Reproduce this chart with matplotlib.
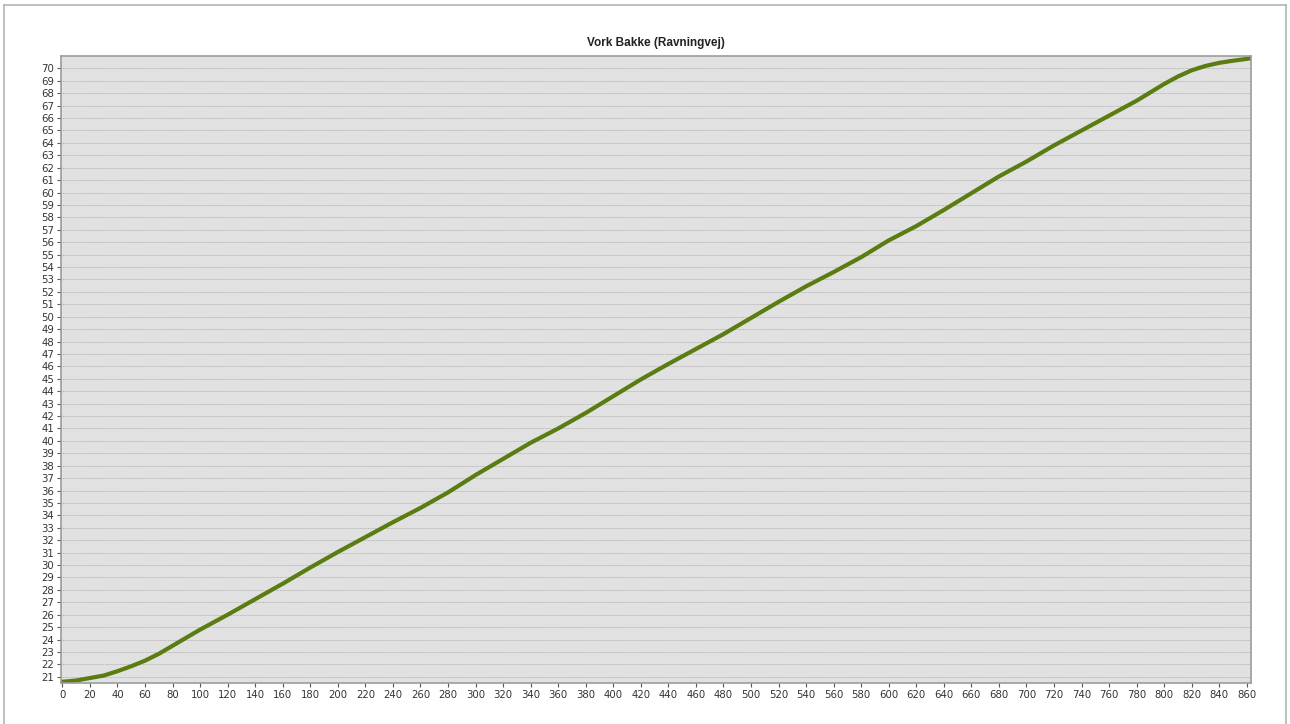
import matplotlib.pyplot as plt
from matplotlib.lines import Line2D

TITLE = "Vork Bakke (Ravningvej)"

# distance (x) and elevation (y)
dist = [0, 10, 20, 30, 40, 50, 60, 70, 80, 90, 100, 120, 140, 160, 180,
        200, 220, 240, 260, 280, 300, 320, 340, 360, 380, 400, 420, 440,
        460, 480, 500, 520, 540, 560, 580, 600, 620, 640, 660, 680, 700,
        720, 740, 760, 780, 800, 810, 820, 830, 840, 850, 862]
elev = [20.6, 20.7, 20.9, 21.1, 21.45, 21.85, 22.3, 22.85, 23.5, 24.15, 24.8,
        26.0, 27.25, 28.5, 29.8, 31.05, 32.25, 33.45, 34.6, 35.85, 37.25,
        38.55, 39.85, 41.0, 42.25, 43.6, 44.95, 46.2, 47.4, 48.6, 49.9, 51.2,
        52.45, 53.6, 54.8, 56.15, 57.3, 58.6, 59.95, 61.3, 62.5, 63.8, 65.0,
        66.2, 67.4, 68.75, 69.35, 69.85, 70.2, 70.45, 70.62, 70.8]

xticks = list(range(0, 861, 20))
yticks = list(range(21, 71))


def main():
    fig = plt.figure(figsize=(12.9, 7.24), dpi=100)
    fig.patch.set_facecolor("white")

    # outer frame of the picture
    fx0, fx1, fy1 = 4 / 1290, 1286 / 1290, 1 - 5 / 724
    for xs, ys in [([fx0, fx1], [fy1, fy1]), ([fx0, fx0], [-0.1, fy1]),
                   ([fx1, fx1], [-0.1, fy1])]:
        fig.add_artist(Line2D(xs, ys, color="#b4b4b4", lw=1.2,
                              transform=fig.transFigure))

    ax = fig.add_axes([61 / 1290, 41 / 724, 1190 / 1290, 627 / 724])
    ax.set_facecolor("#e1e1e1")

    ax.plot(dist, elev, color="#5a7c10", lw=3.0, solid_capstyle="round",
            solid_joinstyle="round")

    ax.set_xlim(-1, 863)
    ax.set_ylim(20.5, 71.0)
    ax.set_xticks(xticks)
    ax.set_yticks(yticks)
    ax.tick_params(labelsize=7.3, colors="#555555", length=3, width=0.8,
                   direction="out", pad=2)
    for lab in ax.get_xticklabels() + ax.get_yticklabels():
        lab.set_color("#333333")

    ax.yaxis.grid(True, linestyle=(0, (1, 1)), color="#a8a8a8", lw=0.6)
    ax.set_axisbelow(True)
    for s in ax.spines.values():
        s.set_color("#9c9c9c")
        s.set_linewidth(1.2)

    ax.set_title(TITLE, fontsize=8.5, fontweight="bold", color="#222222",
                 pad=7, family=["Liberation Sans", "DejaVu Sans"])

    fig.savefig("out.png", dpi=100)
    plt.close(fig)


if __name__ == "__main__":
    main()
